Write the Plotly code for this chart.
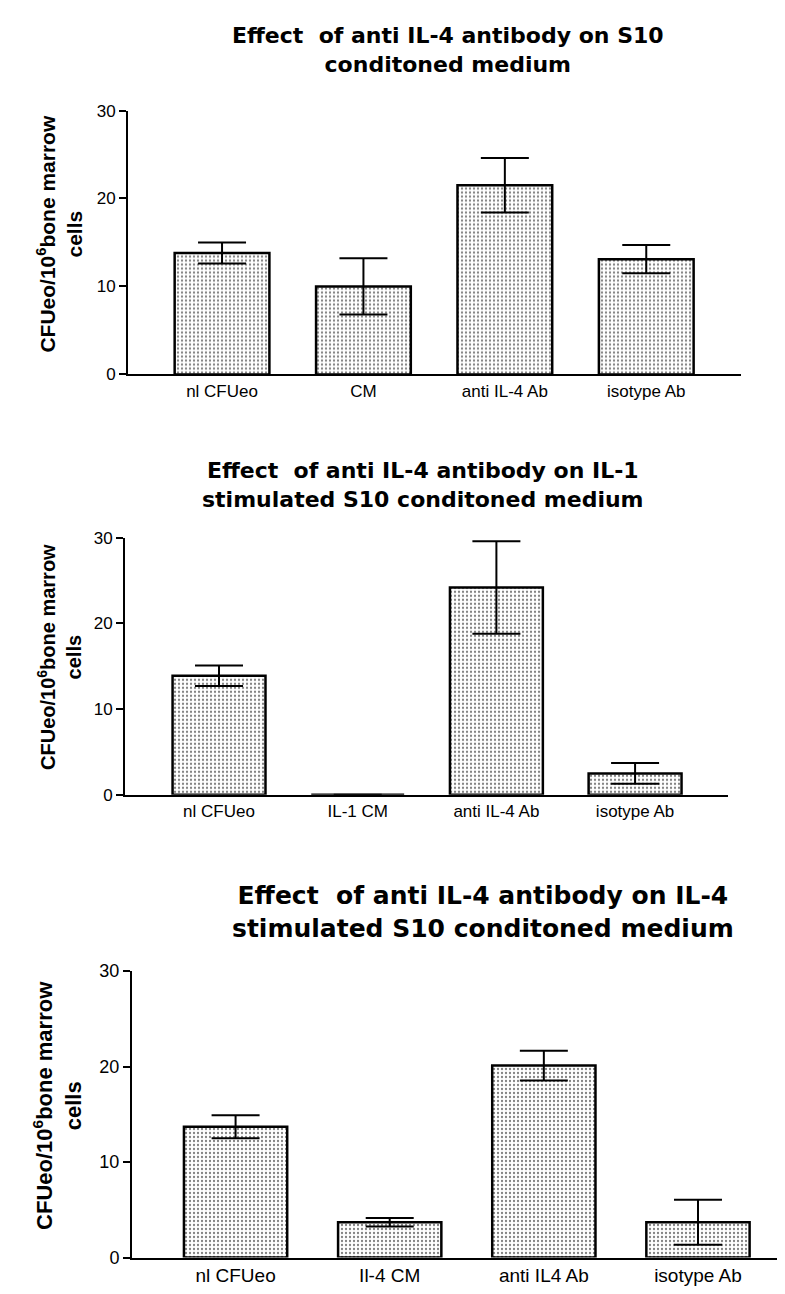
import plotly.graph_objects as go

# ---- data ----
cats1 = ["nl CFUeo", "CM", "anti IL-4 Ab", "isotype Ab"]
vals1 = [13.8, 10.0, 21.5, 13.1]
err1 = [1.2, 3.2, 3.1, 1.6]

cats2 = ["nl CFUeo", "IL-1 CM", "anti IL-4 Ab", "isotype Ab"]
vals2 = [13.9, 0.0, 24.2, 2.5]
err2 = [1.2, 0.0, 5.4, 1.2]

cats3 = ["nl CFUeo", "Il-4 CM", "anti IL4 Ab", "isotype Ab"]
vals3 = [13.7, 3.7, 20.1, 3.7]
err3 = [1.2, 0.45, 1.55, 2.35]

titles = [
    "Effect  of anti IL-4 antibody on S10<br>conditoned medium",
    "Effect  of anti IL-4 antibody on IL-1<br>stimulated S10 conditoned medium",
    "Effect  of anti IL-4 antibody on IL-4<br>stimulated S10 conditoned medium",
]
ytitle = "CFUeo/10<sup>6</sup>bone marrow<br>cells"
yticks = [0, 10, 20, 30]

W, H = 785, 1294

def px_x(x):
    return x / W

def px_y(y):
    return 1 - y / H

panels = [
    dict(cats=cats1, vals=vals1, err=err1, l=120, r=733, t=94, b=362, xr=[-0.665, 3.67],
         title_xy=(440, 32), tfs=22, ytx=(52, 219), yfs=21, tickfs=17, xtfs=17),
    dict(cats=cats2, vals=vals2, err=err2, l=117, r=720, t=528, b=789, xr=[-0.678, 3.67],
         title_xy=(415, 474), tfs=22, ytx=(52, 649), yfs=20, tickfs=17, xtfs=17),
    dict(cats=cats3, vals=vals3, err=err3, l=124, r=784, t=968, b=1259, xr=[-0.672, 3.61],
         title_xy=(475, 908), tfs=25, ytx=(50, 1105), yfs=22, tickfs=18, xtfs=19),
]

fig = go.Figure()
layout = dict(
    width=W, height=H,
    margin=dict(l=0, r=0, t=0, b=0),
    paper_bgcolor="white", plot_bgcolor="white",
    showlegend=False,
    annotations=[],
)

for i, p in enumerate(panels):
    n = "" if i == 0 else str(i + 1)
    fig.add_trace(go.Bar(
        x=list(range(len(p["cats"]))), y=p["vals"],
        xaxis="x" + n, yaxis="y" + n,
        width=0.67,
        marker=dict(
            color="white",
            line=dict(color="black", width=2.5),
            pattern=dict(shape=".", fgcolor="black", bgcolor="white", size=4, solidity=0.25),
        ),
        error_y=dict(type="data", array=p["err"], visible=True, color="black", thickness=2, width=24),
    ))
    layout["xaxis" + n] = dict(
        domain=[px_x(p["l"]), px_x(p["r"])],
        anchor="y" + n,
        range=p["xr"],
        tickmode="array", tickvals=list(range(len(p["cats"]))), ticktext=p["cats"],
        showline=True, linecolor="black", linewidth=2,
        ticks="", showgrid=False, zeroline=False,
        tickfont=dict(family="Liberation Sans", size=p["xtfs"], color="black"),
    )
    layout["yaxis" + n] = dict(
        domain=[px_y(p["b"]), px_y(p["t"])],
        anchor="x" + n,
        range=[0, 30],
        tickmode="array", tickvals=yticks,
        showline=True, linecolor="black", linewidth=2,
        ticks="outside", ticklen=7, tickwidth=2, tickcolor="black",
        showgrid=False, zeroline=False,
        tickfont=dict(family="Liberation Sans", size=p["tickfs"], color="black"),
    )
    tx, ty = p["title_xy"]
    layout["annotations"].append(dict(
        text="<b>" + titles[i] + "</b>", x=px_x(tx), y=px_y(ty), xref="paper", yref="paper",
        showarrow=False, xanchor="center", yanchor="middle", align="center",
        font=dict(family="DejaVu Sans", size=p["tfs"], color="black"),
    ))
    yx, yy = p["ytx"]
    layout["annotations"].append(dict(
        text="<b>" + ytitle + "</b>", x=px_x(yx), y=px_y(yy), xref="paper", yref="paper",
        showarrow=False, xanchor="center", yanchor="middle", align="center", textangle=-90,
        font=dict(family="Liberation Sans", size=p["yfs"], color="black"),
    ))

fig.update_layout(**layout)
fig.write_html("out.html")
